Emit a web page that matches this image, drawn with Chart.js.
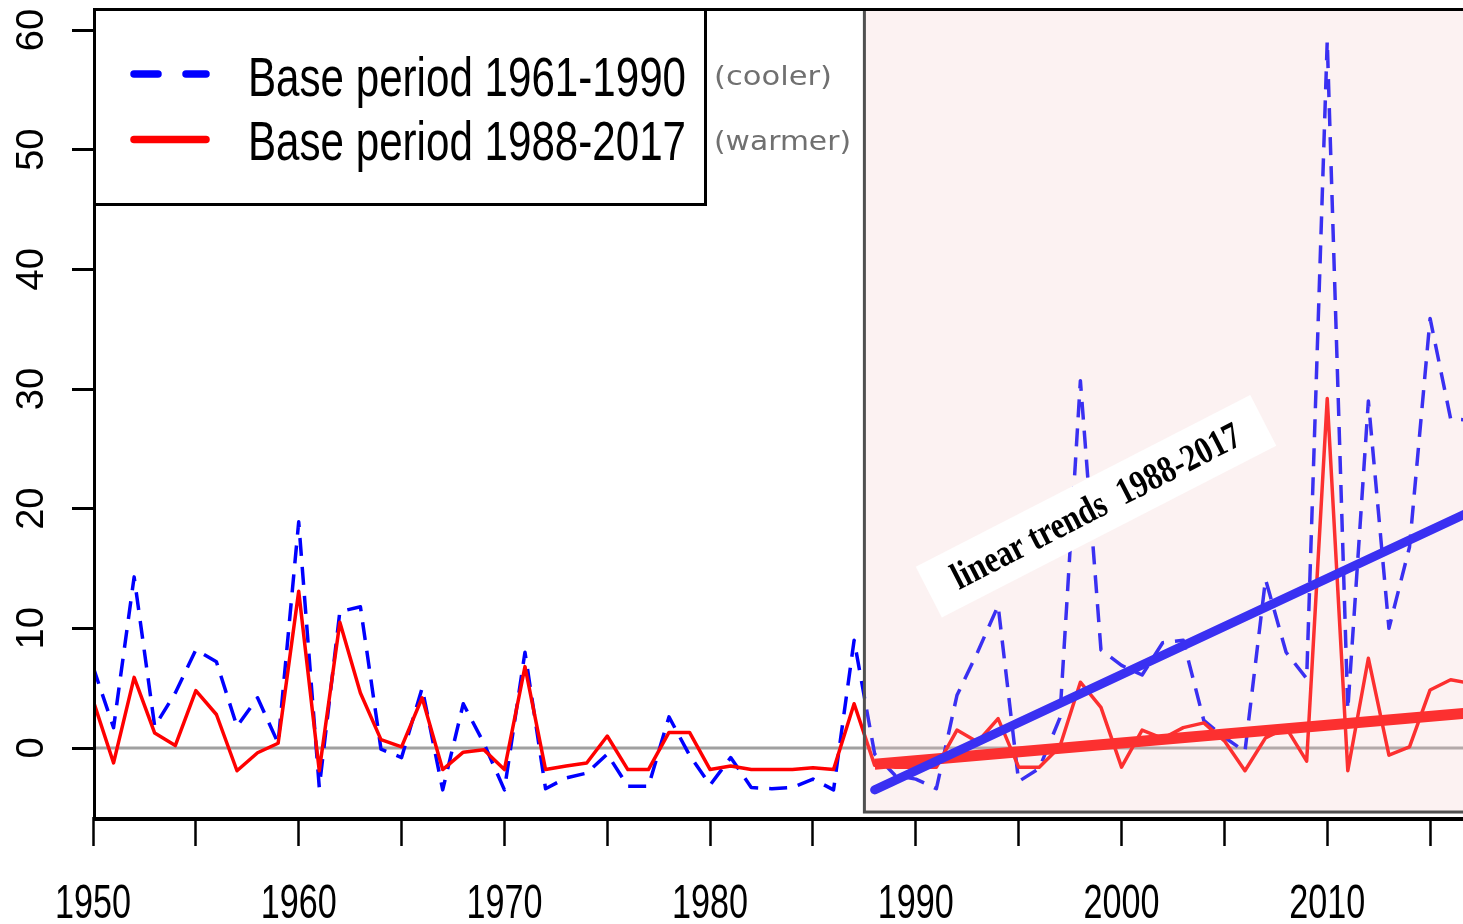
<!DOCTYPE html>
<html>
<head>
<meta charset="utf-8">
<script src="https://cdn.jsdelivr.net/npm/chart.js@4.4.1/dist/chart.umd.min.js"></script>
<style>
  html, body { margin: 0; padding: 0; background: #fff; }
  canvas { display: block; }
</style>
</head>
<body>
<canvas id="anomalyChart" width="1463" height="924"></canvas>
<script>
// yearly values, one entry per year
const years = [
  1950, 1951, 1952, 1953, 1954, 1955, 1956, 1957, 1958, 1959,
  1960, 1961, 1962, 1963, 1964, 1965, 1966, 1967, 1968, 1969,
  1970, 1971, 1972, 1973, 1974, 1975, 1976, 1977, 1978, 1979,
  1980, 1981, 1982, 1983, 1984, 1985, 1986, 1987, 1988, 1989,
  1990, 1991, 1992, 1993, 1994, 1995, 1996, 1997, 1998, 1999,
  2000, 2001, 2002, 2003, 2004, 2005, 2006, 2007, 2008, 2009,
  2010, 2011, 2012, 2013, 2014, 2015, 2016, 2017
];
const coolerBase = [
  6.8, 1.7, 14.3, 1.8, 4.6, 8.2, 7.2, 1.8, 4.2, 0.4,
  18.9, -3.3, 11.4, 11.8, -0.1, -0.8, 5.0, -3.5, 3.7, 0.4,
  -3.5, 8.0, -3.4, -2.5, -2.1, -0.5, -3.2, -3.2, 2.6, -0.6,
  -3.1, -0.8, -3.3, -3.4, -3.3, -2.6, -3.5, 9.0, -0.5, -2.3,
  -2.6, -3.4, 4.4, 8.0, 11.9, -2.8, -1.7, 2.5, 30.7, 8.2,
  6.9, 6.1, 8.8, 9.0, 2.3, 0.9, -0.3, 14.1, 8.0, 5.8,
  59.1, 3.2, 29.0, 10.0, 16.8, 35.9, 27.5, 27.4
];
const warmerBase = [
  4.0, -1.25, 5.9, 1.25, 0.2, 4.8, 2.8, -1.9, -0.4, 0.4,
  13.1, -1.9, 10.5, 4.6, 0.7, 0.1, 4.2, -1.8, -0.35, -0.15,
  -1.8, 6.8, -1.8, -1.5, -1.25, 1.0, -1.8, -1.8, 1.3, 1.3,
  -1.8, -1.5, -1.8, -1.8, -1.8, -1.65, -1.8, 3.7, -1.45, -1.6,
  -1.6, -1.6, 1.5, 0.5, 2.45, -1.6, -1.6, 0.1, 5.5, 3.4,
  -1.6, 1.5, 0.8, 1.7, 2.1, 0.6, -1.9, 0.85, 1.7, -1.1,
  29.2, -1.9, 7.5, -0.6, 0.1, 4.85, 5.7, 5.4
];

// fitted trends over the recent period (end points)
const trendYears = [1988, 2017];
const coolerTrend = [-3.5, 19.8];
const warmerTrend = [-1.35, 2.95];

const xTickYears = [1950, 1955, 1960, 1965, 1970, 1975, 1980, 1985, 1990, 1995, 2000, 2005, 2010, 2015];
const xTickLabels = ["1950", "1960", "1970", "1980", "1990", "2000", "2010"];
const yTicks = [0, 10, 20, 30, 40, 50, 60];

const legendLabels = ["Base period 1961-1990", "Base period 1988-2017"];
const legendNotes = ["(cooler)", "(warmer)"];
const trendNote = "linear trends  1988-2017";
const shadeFrom = 1987.5;
const shadeBottom = -5.35;

const SANS = '"Liberation Sans", Arial, sans-serif';

function toPoints(xs, ys) {
  return xs.map(function (x, i) { return { x: x, y: ys[i] }; });
}

// draw text stretched/squeezed horizontally to an exact width
function fitText(ctx, text, x, y, width, align) {
  const w0 = ctx.measureText(text).width;
  ctx.save();
  ctx.translate(x, y);
  ctx.scale(width / w0, 1);
  ctx.textAlign = align;
  ctx.fillText(text, 0, 0);
  ctx.restore();
}

const zeroLine = {
  id: "zeroLine",
  beforeDatasetsDraw(chart) {
    const ctx = chart.ctx, a = chart.chartArea;
    const y0 = chart.scales.y.getPixelForValue(0);
    ctx.save();
    ctx.strokeStyle = "#a0a0a0";
    ctx.lineWidth = 3;
    ctx.beginPath();
    ctx.moveTo(a.left, y0);
    ctx.lineTo(a.right, y0);
    ctx.stroke();
    ctx.restore();
  },
};

// tinted box over the recent period plus the trend label
const recentPeriod = {
  id: "recentPeriod",
  afterDatasetsDraw(chart) {
    const ctx = chart.ctx, a = chart.chartArea;
    const xs = chart.scales.x, ys = chart.scales.y;
    const x0 = xs.getPixelForValue(shadeFrom);
    const y1 = ys.getPixelForValue(shadeBottom);
    ctx.save();
    ctx.fillStyle = "rgba(242, 200, 200, 0.24)";
    ctx.fillRect(x0, a.top, chart.width - x0 + 10, y1 - a.top);
    ctx.strokeStyle = "#505050";
    ctx.lineWidth = 3;
    ctx.strokeRect(x0, a.top + 1.5, chart.width - x0 + 10, y1 - a.top - 1.5);

    const cx = xs.getPixelForValue(1998.76);
    const cy = ys.getPixelForValue(20.2);
    ctx.translate(cx, cy);
    ctx.rotate(-27.2 * Math.PI / 180);
    ctx.fillStyle = "#ffffff";
    ctx.fillRect(-188, -28.5, 376, 57);
    ctx.fillStyle = "#000000";
    ctx.font = 'bold 38px "Liberation Serif", "Times New Roman", serif';
    ctx.textBaseline = "middle";
    fitText(ctx, trendNote, 0, 2, 320, "center");
    ctx.restore();
  },
};

const frameAndLegend = {
  id: "frameAndLegend",
  afterDraw(chart) {
    const ctx = chart.ctx, a = chart.chartArea;
    const xs = chart.scales.x, ys = chart.scales.y;
    ctx.save();

    // plot frame
    ctx.strokeStyle = "#000";
    ctx.lineWidth = 3;
    ctx.beginPath();
    ctx.moveTo(chart.width + 5, a.top + 1.5);
    ctx.lineTo(a.left + 1.5, a.top + 1.5);
    ctx.lineTo(a.left + 1.5, a.bottom);
    ctx.stroke();
    ctx.lineWidth = 4;
    ctx.beginPath();
    ctx.moveTo(a.left, a.bottom + 2);
    ctx.lineTo(chart.width + 5, a.bottom + 2);
    ctx.stroke();

    // axis labels
    ctx.fillStyle = "#000";
    ctx.font = "49px " + SANS;
    ctx.textBaseline = "alphabetic";
    xTickLabels.forEach(function (t) {
      fitText(ctx, t, xs.getPixelForValue(Number(t)), 918, 76, "center");
    });
    ctx.font = "38px " + SANS;
    ctx.textAlign = "center";
    yTicks.forEach(function (v) {
      ctx.save();
      ctx.translate(43, ys.getPixelForValue(v));
      ctx.rotate(-Math.PI / 2);
      ctx.fillText(String(v), 0, 0);
      ctx.restore();
    });

    // legend box
    ctx.fillStyle = "#fff";
    ctx.fillRect(a.left, a.top, 613, 197);
    ctx.strokeStyle = "#000";
    ctx.lineWidth = 3;
    ctx.strokeRect(a.left + 1.5, a.top + 1.5, 611, 195);

    ctx.lineCap = "round";
    ctx.lineWidth = 7.5;
    ctx.strokeStyle = "#0000ff";
    ctx.setLineDash([24, 28]);
    ctx.beginPath();
    ctx.moveTo(134, 74);
    ctx.lineTo(206, 74);
    ctx.stroke();
    ctx.setLineDash([]);
    ctx.strokeStyle = "#ff0000";
    ctx.beginPath();
    ctx.moveTo(134, 139.5);
    ctx.lineTo(206, 139.5);
    ctx.stroke();

    ctx.fillStyle = "#000";
    ctx.font = "56px " + SANS;
    fitText(ctx, legendLabels[0], 248, 96, 438, "left");
    fitText(ctx, legendLabels[1], 248, 160, 438, "left");

    ctx.fillStyle = "#707070";
    ctx.font = '27px "DejaVu Sans", sans-serif';
    fitText(ctx, legendNotes[0], 714, 85, 118, "left");
    fitText(ctx, legendNotes[1], 714, 150, 137, "left");
    ctx.restore();
  },
};

const ctx = document.getElementById("anomalyChart");

const anomalyChart = new Chart(ctx, {
  type: "line",
  data: {
    datasets: [
      {
        label: "trend 1961-1990",
        data: toPoints(trendYears, coolerTrend),
        borderColor: "#0000ff",
        borderWidth: 9,
        borderCapStyle: "round",
        order: 0,
      },
      {
        label: "trend 1988-2017",
        data: toPoints(trendYears, warmerTrend),
        borderColor: "#ff0000",
        borderWidth: 11,
        order: 1,
      },
      {
        label: legendLabels[1],
        data: toPoints(years, warmerBase),
        borderColor: "#ff0000",
        borderWidth: 3.5,
        borderJoinStyle: "round",
        order: 2,
      },
      {
        label: legendLabels[0],
        data: toPoints(years, coolerBase),
        borderColor: "#0000ff",
        borderWidth: 3.5,
        borderDash: [18, 11],
        borderJoinStyle: "round",
        order: 3,
      },
    ],
  },
  options: {
    responsive: false,
    maintainAspectRatio: false,
    animation: false,
    events: [],
    elements: {
      point: { radius: 0 },
      line: { tension: 0 },
    },
    layout: { padding: { top: 8, right: 0, left: 0, bottom: 0 } },
    scales: {
      x: {
        type: "linear",
        min: 1950,
        max: 2016.6,
        afterBuildTicks: function (scale) {
          scale.ticks = xTickYears.map(function (v) { return { value: v }; });
        },
        afterFit: function (scale) { scale.height = 107; },
        ticks: { display: false },
        border: { display: false },
        grid: {
          drawOnChartArea: false,
          drawTicks: true,
          tickLength: 29,
          tickWidth: 2.5,
          tickColor: "#000",
        },
      },
      y: {
        type: "linear",
        min: -5.766,
        max: 61.84,
        afterBuildTicks: function (scale) {
          scale.ticks = yTicks.map(function (v) { return { value: v }; });
        },
        afterFit: function (scale) { scale.width = 93; },
        ticks: { display: false },
        border: { display: false },
        grid: {
          drawOnChartArea: false,
          drawTicks: true,
          tickLength: 21,
          tickWidth: 3,
          tickColor: "#000",
        },
      },
    },
    plugins: {
      legend: { display: false },
      tooltip: { enabled: false },
    },
  },
  plugins: [zeroLine, recentPeriod, frameAndLegend],
});
</script>
</body>
</html>
